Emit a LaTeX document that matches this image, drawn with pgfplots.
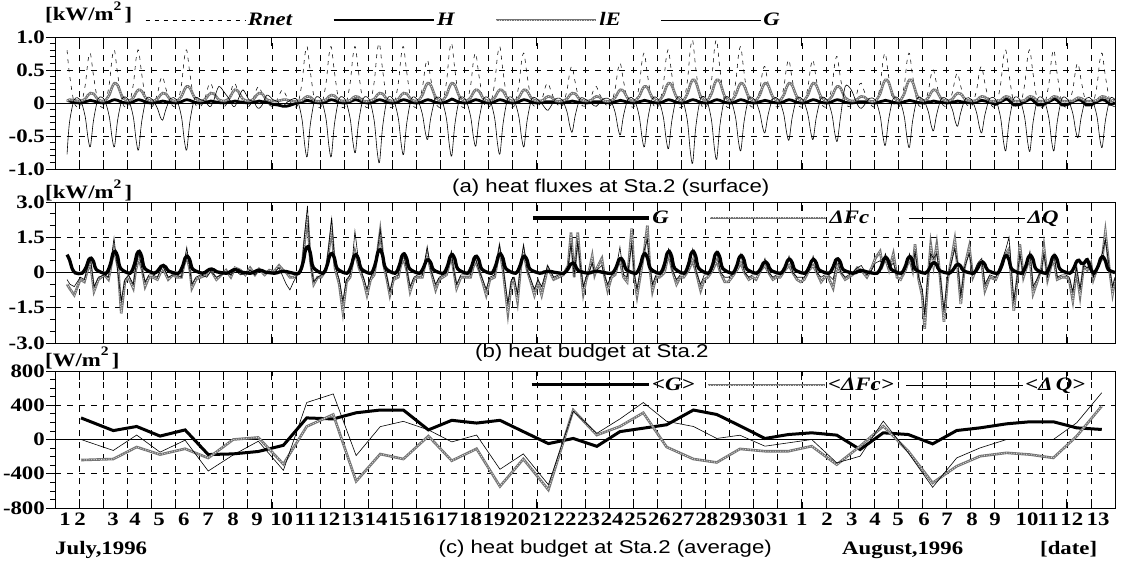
\documentclass[border=0pt]{standalone}
\usepackage{pgfplots}
\pgfplotsset{compat=1.18}
\usepackage{pgfplotstable}
\usepackage{fontspec}
\setmainfont{Liberation Serif}[FakeStretch=1.2]
\newfontfamily\sansf{Liberation Sans}[FakeStretch=1.2]
\newcommand\tkf{\bfseries\fontsize{19}{19}\selectfont}
\newcommand\lgf{\bfseries\itshape\fontsize{19}{19}\selectfont}
\newcommand\ttlf{\sansf\fontsize{18.5}{18.5}\selectfont}
\newcommand\unitlbl[1]{[#1/m\raisebox{0.55em}{\fontsize{13}{13}\selectfont 2}\,]}

% surface heat fluxes (kW/m^2): net radiation, sensible, latent, ground
\pgfplotstableread{
x R H E G
0.50 0.80 0.04 0.03 -0.78
0.60 0.44 0.03 0.05 -0.30
0.80 0.00 0.01 0.04 0.05
1.05 -0.05 0.00 0.03 0.05
1.25 0.26 0.02 0.06 -0.20
1.37 0.64 0.03 0.12 -0.53
1.47 0.75 0.04 0.15 -0.66
1.60 0.41 0.03 0.14 -0.26
1.80 0.00 0.01 0.05 0.07
2.05 -0.05 0.00 0.03 0.05
2.25 0.28 0.02 0.12 -0.20
2.37 0.68 0.04 0.24 -0.53
2.47 0.80 0.05 0.30 -0.66
2.60 0.44 0.04 0.27 -0.26
2.80 0.00 0.01 0.09 0.07
3.05 -0.05 0.00 0.03 0.05
3.25 0.28 0.02 0.08 -0.21
3.37 0.68 0.04 0.16 -0.57
3.47 0.80 0.05 0.20 -0.71
3.60 0.44 0.04 0.18 -0.28
3.80 0.00 0.01 0.06 0.07
4.05 -0.05 0.00 0.03 0.05
4.25 0.14 0.02 0.06 -0.08
4.37 0.34 0.02 0.12 -0.21
4.47 0.40 0.03 0.15 -0.26
4.60 0.22 0.02 0.14 -0.10
4.80 0.00 0.01 0.05 0.07
5.05 -0.05 0.00 0.03 0.05
5.25 0.28 0.02 0.10 -0.21
5.37 0.68 0.04 0.20 -0.57
5.47 0.80 0.05 0.25 -0.71
5.60 0.44 0.04 0.23 -0.28
5.80 0.00 0.01 0.08 0.07
6.05 -0.05 0.00 0.03 0.05
6.25 0.10 0.02 0.06 0.02
6.37 0.26 0.02 0.12 -0.04
6.47 0.30 0.03 0.15 -0.05
6.60 0.17 0.02 0.14 0.05
6.80 0.00 0.01 0.05 0.25
7.05 -0.05 0.00 0.03 0.15
7.25 0.10 0.02 0.08 0.05
7.37 0.26 0.02 0.16 -0.04
7.47 0.30 0.03 0.20 -0.05
7.60 0.17 0.02 0.18 0.05
7.80 0.00 0.01 0.06 0.20
8.05 -0.05 0.00 0.03 0.05
8.25 0.09 0.02 0.06 0.02
8.37 0.21 0.02 0.12 -0.06
8.47 0.25 0.03 0.15 -0.08
8.60 0.14 0.02 0.14 -0.03
8.80 0.00 0.01 0.05 0.12
9.05 -0.05 -0.02 0.03 0.05
9.25 0.07 -0.03 0.03 0.02
9.37 0.17 -0.04 0.04 -0.04
9.47 0.20 -0.05 0.05 -0.05
9.60 0.11 -0.05 0.05 0.00
9.80 0.00 -0.03 0.03 0.05
10.05 -0.05 0.00 0.03 0.05
10.25 0.30 0.02 0.04 -0.24
10.37 0.72 0.03 0.08 -0.65
10.47 0.85 0.04 0.10 -0.81
10.60 0.47 0.03 0.09 -0.32
10.80 0.00 0.01 0.03 0.07
11.05 -0.05 0.00 0.03 0.05
11.25 0.30 0.02 0.05 -0.24
11.37 0.72 0.04 0.10 -0.65
11.47 0.85 0.05 0.12 -0.81
11.60 0.47 0.04 0.11 -0.32
11.80 0.00 0.01 0.04 0.07
12.05 -0.05 0.00 0.03 0.05
12.25 0.30 0.02 0.04 -0.23
12.37 0.72 0.04 0.08 -0.60
12.47 0.85 0.05 0.10 -0.75
12.60 0.47 0.04 0.09 -0.30
12.80 0.00 0.01 0.03 0.07
13.05 -0.05 0.00 0.03 0.05
13.25 0.32 0.02 0.06 -0.27
13.37 0.77 0.04 0.12 -0.72
13.47 0.90 0.05 0.15 -0.90
13.60 0.50 0.04 0.14 -0.36
13.80 0.00 0.01 0.05 0.07
14.05 -0.05 0.00 0.03 0.05
14.25 0.30 0.02 0.06 -0.23
14.37 0.72 0.04 0.12 -0.62
14.47 0.85 0.05 0.15 -0.78
14.60 0.47 0.04 0.14 -0.31
14.80 0.00 0.01 0.05 0.07
15.05 -0.05 0.00 0.03 0.05
15.25 0.23 0.02 0.12 -0.17
15.37 0.55 0.04 0.24 -0.44
15.47 0.65 0.05 0.30 -0.55
15.60 0.36 0.04 0.27 -0.22
15.80 0.00 0.01 0.09 0.07
16.05 -0.05 0.00 0.03 0.05
16.25 0.32 0.02 0.12 -0.24
16.37 0.77 0.04 0.24 -0.64
16.47 0.90 0.06 0.30 -0.80
16.60 0.50 0.04 0.27 -0.32
16.80 0.00 0.01 0.09 0.07
17.05 -0.05 0.00 0.03 0.05
17.25 0.26 0.02 0.08 -0.20
17.37 0.64 0.04 0.16 -0.52
17.47 0.75 0.05 0.20 -0.65
17.60 0.41 0.04 0.18 -0.26
17.80 0.00 0.01 0.06 0.07
18.05 -0.05 0.00 0.03 0.05
18.25 0.30 0.02 0.08 -0.23
18.37 0.72 0.04 0.16 -0.62
18.47 0.85 0.05 0.20 -0.77
18.60 0.47 0.04 0.18 -0.31
18.80 0.00 0.01 0.06 0.07
19.05 -0.05 0.00 0.03 0.05
19.25 0.26 0.02 0.08 -0.20
19.37 0.64 0.04 0.16 -0.53
19.47 0.75 0.05 0.20 -0.66
19.60 0.41 0.04 0.18 -0.26
19.80 0.00 0.01 0.06 0.07
20.05 -0.05 0.00 0.03 0.05
20.25 0.10 0.01 0.04 -0.03
20.37 0.26 0.02 0.08 -0.09
20.47 0.30 0.02 0.10 -0.11
20.60 0.17 0.02 0.09 -0.04
20.80 0.00 0.01 0.03 0.07
21.05 -0.05 0.00 0.03 0.05
21.25 0.19 0.02 0.06 -0.13
21.37 0.47 0.02 0.12 -0.35
21.47 0.55 0.03 0.15 -0.44
21.60 0.30 0.02 0.14 -0.18
21.80 0.00 0.01 0.05 0.07
22.05 -0.05 0.00 0.03 0.05
22.25 0.09 0.01 0.04 0.00
22.37 0.21 0.02 0.08 -0.04
22.47 0.25 0.02 0.10 -0.05
22.60 0.14 0.02 0.09 0.00
22.80 0.00 0.01 0.03 0.07
23.05 -0.05 0.00 0.03 0.05
23.25 0.21 0.02 0.08 -0.14
23.37 0.51 0.03 0.16 -0.38
23.47 0.60 0.04 0.20 -0.48
23.60 0.33 0.03 0.18 -0.19
23.80 0.00 0.01 0.06 0.07
24.05 -0.05 0.00 0.03 0.05
24.25 0.26 0.02 0.10 -0.20
24.37 0.64 0.03 0.20 -0.53
24.47 0.75 0.04 0.25 -0.66
24.60 0.41 0.03 0.23 -0.26
24.80 0.00 0.01 0.08 0.07
25.05 -0.05 0.00 0.03 0.05
25.25 0.28 0.02 0.12 -0.21
25.37 0.68 0.04 0.24 -0.55
25.47 0.80 0.05 0.30 -0.69
25.60 0.44 0.04 0.27 -0.28
25.80 0.00 0.01 0.09 0.07
26.05 -0.05 0.00 0.03 0.05
26.25 0.33 0.02 0.14 -0.27
26.37 0.81 0.04 0.28 -0.73
26.47 0.95 0.05 0.35 -0.91
26.60 0.52 0.04 0.32 -0.36
26.80 0.00 0.01 0.10 0.07
27.05 -0.05 0.00 0.03 0.05
27.25 0.33 0.02 0.14 -0.26
27.37 0.81 0.04 0.28 -0.68
27.47 0.95 0.05 0.35 -0.85
27.60 0.52 0.04 0.32 -0.34
27.80 0.00 0.01 0.10 0.07
28.05 -0.05 0.00 0.03 0.05
28.25 0.30 0.02 0.12 -0.22
28.37 0.72 0.04 0.24 -0.58
28.47 0.85 0.05 0.30 -0.72
28.60 0.47 0.04 0.27 -0.29
28.80 0.00 0.01 0.09 0.07
29.05 -0.05 0.00 0.03 0.05
29.25 0.19 0.02 0.12 -0.14
29.37 0.47 0.03 0.24 -0.36
29.47 0.55 0.04 0.30 -0.45
29.60 0.30 0.03 0.27 -0.18
29.80 0.00 0.01 0.09 0.07
30.05 -0.05 0.00 0.03 0.05
30.25 0.23 0.02 0.12 -0.17
30.37 0.55 0.04 0.24 -0.45
30.47 0.65 0.05 0.30 -0.56
30.60 0.36 0.04 0.27 -0.22
30.80 0.00 0.01 0.09 0.07
31.05 -0.05 0.00 0.03 0.05
31.25 0.23 0.02 0.12 -0.17
31.37 0.55 0.04 0.24 -0.44
31.47 0.65 0.05 0.30 -0.55
31.60 0.36 0.04 0.27 -0.22
31.80 0.00 0.01 0.09 0.07
32.05 -0.05 0.00 0.03 0.05
32.25 0.25 0.02 0.10 -0.17
32.37 0.60 0.04 0.20 -0.46
32.47 0.70 0.05 0.25 -0.58
32.60 0.39 0.04 0.23 -0.23
32.80 0.00 0.01 0.08 0.25
33.05 -0.05 0.00 0.03 0.20
33.25 0.10 0.01 0.04 0.02
33.37 0.26 0.02 0.08 -0.06
33.47 0.30 0.02 0.10 -0.08
33.60 0.17 0.02 0.09 -0.03
33.80 0.00 0.01 0.03 0.07
34.05 -0.05 0.00 0.03 0.05
34.25 0.26 0.02 0.14 -0.19
34.37 0.64 0.03 0.28 -0.51
34.47 0.75 0.04 0.35 -0.64
34.60 0.41 0.03 0.32 -0.26
34.80 0.00 0.01 0.10 0.07
35.05 -0.05 0.00 0.03 0.05
35.25 0.26 0.02 0.14 -0.20
35.37 0.64 0.03 0.28 -0.54
35.47 0.75 0.04 0.35 -0.67
35.60 0.41 0.03 0.32 -0.27
35.80 0.00 0.01 0.10 0.07
36.05 -0.05 0.00 0.03 0.05
36.25 0.18 0.02 0.08 -0.13
36.37 0.43 0.02 0.16 -0.34
36.47 0.50 0.03 0.20 -0.42
36.60 0.28 0.02 0.18 -0.17
36.80 0.00 0.01 0.06 0.07
37.05 -0.05 0.00 0.03 0.05
37.25 0.16 0.02 0.06 -0.10
37.37 0.38 0.02 0.12 -0.28
37.47 0.45 0.03 0.15 -0.35
37.60 0.25 0.02 0.14 -0.14
37.80 0.00 0.01 0.05 0.07
38.05 -0.05 0.00 0.03 0.05
38.25 0.19 0.02 0.04 -0.14
38.37 0.47 0.03 0.08 -0.36
38.47 0.55 0.04 0.10 -0.45
38.60 0.30 0.03 0.09 -0.18
38.80 0.00 0.01 0.03 0.07
39.05 -0.05 -0.02 0.03 0.05
39.25 0.28 0.02 0.04 -0.22
39.37 0.68 0.04 0.08 -0.58
39.47 0.80 0.06 0.10 -0.72
39.60 0.44 0.04 0.09 -0.29
39.80 0.00 -0.03 0.03 0.07
40.05 -0.05 -0.02 0.03 0.05
40.25 0.28 0.02 0.04 -0.22
40.37 0.68 0.04 0.08 -0.58
40.47 0.80 0.06 0.10 -0.73
40.60 0.44 0.04 0.09 -0.29
40.80 0.00 -0.03 0.03 0.07
41.05 -0.05 -0.02 0.03 0.05
41.25 0.28 0.02 0.04 -0.22
41.37 0.68 0.04 0.08 -0.58
41.47 0.80 0.06 0.10 -0.72
41.60 0.44 0.04 0.09 -0.29
41.80 0.00 -0.03 0.03 0.07
42.05 -0.05 -0.02 0.03 0.05
42.25 0.21 0.02 0.03 -0.16
42.37 0.51 0.04 0.06 -0.42
42.47 0.60 0.05 0.08 -0.52
42.60 0.33 0.04 0.07 -0.21
42.80 0.00 -0.03 0.03 0.07
43.05 -0.05 -0.02 0.03 0.05
43.25 0.26 0.02 0.04 -0.20
43.37 0.64 0.04 0.08 -0.54
43.47 0.75 0.05 0.10 -0.67
43.60 0.41 0.04 0.09 -0.27
43.80 0.00 -0.02 0.03 0.07
44.00 -0.05 0.00 0.05 0.05
}\surf

% heat budget (kW/m^2): flux convergence and storage change
\pgfplotstableread{
x F Q
0.50 -0.50 -0.30
0.62 -0.70 -0.50
0.80 -0.96 -0.60
1.05 -0.30 -0.20
1.22 -0.40 -0.30
1.35 0.10 0.20
1.47 0.40 0.60
1.62 -0.80 -0.60
1.80 -0.30 -0.20
2.05 -0.10 -0.10
2.22 -0.30 -0.20
2.35 0.40 0.70
2.45 1.00 1.47
2.62 0.20 -0.10
2.75 -1.74 -1.20
2.90 -0.40 -0.30
3.05 -0.20 -0.10
3.25 -0.67 -0.50
3.35 0.10 0.20
3.48 0.60 0.87
3.62 0.10 0.10
3.74 -0.60 -0.40
3.90 -0.20 -0.10
4.05 -0.20 -0.10
4.25 -0.30 -0.20
4.47 0.20 0.30
4.70 -0.30 -0.20
4.90 -0.10 -0.10
5.05 -0.20 -0.10
5.25 -0.20 -0.20
5.35 0.30 0.40
5.47 0.70 1.07
5.60 0.10 0.10
5.68 -0.67 -0.50
5.85 -0.30 -0.20
6.05 -0.20 -0.10
6.30 -0.10 -0.20
6.47 0.10 0.05
6.70 -0.30 -0.20
6.90 -0.10 -0.10
7.10 0.10 0.00
7.30 -0.20 -0.10
7.47 0.20 0.10
7.70 0.10 -0.10
7.90 -0.10 -0.05
8.10 0.20 0.10
8.30 -0.10 -0.10
8.47 0.15 0.10
8.70 -0.10 0.00
8.90 0.10 0.00
9.10 0.05 0.00
9.30 0.30 0.20
9.47 0.10 -0.20
9.60 0.00 -0.50
9.75 -0.20 -0.74
9.90 -0.20 -0.40
10.05 -0.10 -0.10
10.25 0.20 0.20
10.35 1.20 1.50
10.48 2.40 2.83
10.60 0.50 0.40
10.74 -0.50 -0.40
10.90 -0.20 -0.20
11.05 -0.20 -0.10
11.25 0.10 0.20
11.35 0.80 1.00
11.48 1.90 2.33
11.62 0.20 0.30
11.80 -0.50 -0.30
11.95 -1.67 -1.20
12.10 -0.40 -0.30
12.25 -0.20 -0.10
12.35 0.40 0.60
12.45 0.90 1.76
12.62 0.20 0.30
12.80 -0.30 -0.20
12.95 -0.96 -0.70
13.10 -0.30 -0.20
13.25 -0.10 0.10
13.38 0.80 0.90
13.50 1.76 1.83
13.65 0.30 0.40
13.78 -0.30 -0.20
13.90 -0.96 -0.80
14.05 -0.30 -0.20
14.25 -0.20 -0.10
14.35 0.30 0.40
14.47 0.60 0.83
14.60 0.10 0.10
14.74 -0.81 -0.60
14.90 -0.30 -0.20
15.05 -0.20 -0.10
15.25 -0.20 -0.10
15.35 0.30 0.50
15.45 0.80 1.11
15.60 0.10 0.10
15.80 -0.74 -0.50
15.95 -0.30 -0.20
16.10 -0.20 -0.10
16.25 -0.10 0.00
16.35 0.30 0.40
16.45 0.70 0.90
16.55 0.10 0.10
16.67 -0.67 -0.50
16.85 -0.20 -0.10
17.05 -0.20 -0.10
17.25 -0.20 -0.10
17.35 0.20 0.30
17.45 0.50 0.61
17.60 0.10 0.10
17.75 -0.40 -0.30
17.90 -0.96 -0.70
18.05 -0.30 -0.20
18.25 -0.20 -0.10
18.35 0.40 0.60
18.45 1.00 1.19
18.60 0.10 0.20
18.80 -1.74 -1.30
18.95 -0.40 -0.30
19.05 -0.30 -0.20
19.20 -1.24 -0.90
19.33 0.20 0.40
19.45 0.90 1.19
19.60 0.10 0.10
19.75 -0.40 -0.30
19.90 -0.96 -0.70
20.05 -0.40 -0.30
20.20 -0.96 -0.60
20.45 0.20 0.30
20.70 -0.30 -0.20
20.90 -0.20 -0.10
21.10 -0.10 -0.10
21.30 0.30 0.30
21.42 1.70 1.20
21.55 -0.20 -0.10
21.70 1.70 1.30
21.82 0.20 0.20
21.93 -0.90 -0.60
22.05 -0.30 -0.20
22.20 0.20 0.10
22.30 0.70 0.40
22.40 -0.10 0.00
22.50 0.20 0.10
22.70 0.60 0.30
22.80 -0.10 -0.10
22.94 -0.77 -0.50
23.10 -0.20 -0.10
23.25 -0.10 0.10
23.35 0.30 0.50
23.45 0.50 1.08
23.60 -0.20 -0.10
23.75 -0.40 -0.20
23.94 1.87 1.20
24.05 -0.20 -0.10
24.16 -1.00 -0.70
24.35 0.20 0.50
24.47 1.00 1.00
24.59 2.00 1.40
24.70 0.10 0.20
24.80 -0.80 -0.50
24.95 -0.20 -0.10
25.10 -0.20 -0.10
25.30 0.00 0.20
25.47 0.80 1.00
25.62 0.10 0.10
25.80 -0.50 -0.30
25.95 -0.20 -0.10
26.10 -0.20 -0.10
26.30 0.10 0.30
26.47 0.50 1.00
26.62 0.00 0.00
26.80 -0.77 -0.50
26.95 -0.30 -0.10
27.10 -0.20 -0.10
27.30 0.10 0.20
27.47 0.50 0.90
27.62 0.00 0.00
27.80 -0.40 -0.20
27.95 -0.40 -0.20
28.10 -0.20 -0.10
28.30 0.10 0.20
28.47 0.40 0.80
28.62 0.00 0.00
28.80 -0.30 -0.20
28.95 -0.20 -0.10
29.10 -0.30 -0.10
29.30 0.10 0.10
29.47 0.30 0.60
29.62 0.00 0.00
29.80 -0.30 -0.20
29.95 -0.20 -0.10
30.10 -0.20 -0.10
30.30 0.10 0.10
30.47 0.30 0.70
30.62 0.00 0.00
30.80 -0.30 -0.20
30.95 -0.40 -0.20
31.10 -0.30 -0.20
31.30 0.10 0.10
31.47 0.30 0.70
31.62 0.00 0.00
31.80 -0.40 -0.20
31.95 -0.20 -0.10
32.10 -0.20 -0.10
32.30 -0.67 -0.30
32.47 0.30 0.60
32.62 0.00 0.00
32.80 -0.30 -0.20
32.95 -0.20 -0.10
33.10 -0.10 0.00
33.30 0.20 0.20
33.47 0.10 0.30
33.70 -0.20 -0.10
33.90 0.20 0.10
34.05 0.60 0.40
34.25 0.90 0.50
34.35 0.30 0.40
34.47 0.60 0.80
34.62 0.10 0.20
34.80 0.80 0.40
34.95 -0.20 -0.10
35.10 -0.30 -0.10
35.30 0.10 0.20
35.47 0.60 0.80
35.60 0.10 0.10
35.70 1.20 0.90
35.85 -0.30 -0.20
36.00 -1.00 -0.70
36.10 -2.40 -1.80
36.22 -0.50 -0.30
36.35 1.20 0.80
36.47 0.30 0.60
36.60 1.20 0.80
36.75 -0.30 -0.20
36.90 -2.10 -1.60
37.05 -0.30 -0.20
37.20 0.50 0.40
37.35 1.40 1.00
37.47 0.20 0.40
37.60 -1.34 -1.00
37.75 0.20 0.20
37.95 1.10 0.80
38.10 -0.20 -0.10
38.30 0.30 0.40
38.47 0.40 0.60
38.60 -0.77 -0.50
38.80 -0.20 -0.10
39.05 -0.30 -0.20
39.30 0.30 0.50
39.47 0.80 1.00
39.60 1.00 1.50
39.80 -1.63 -1.20
39.95 -0.20 -0.10
40.05 1.20 0.80
40.20 -0.20 -0.10
40.35 0.30 0.40
40.47 0.60 0.90
40.60 -0.90 -0.60
40.80 -0.30 -0.20
40.95 0.20 0.10
41.05 1.10 0.80
41.20 -0.30 -0.20
41.35 0.30 0.40
41.47 0.50 0.80
41.60 -0.30 -0.20
41.80 -0.20 -0.10
41.95 -0.20 -0.10
42.10 -0.30 -0.20
42.25 -1.20 -0.80
42.40 0.10 0.20
42.55 -1.00 -0.70
42.70 0.30 0.30
42.85 0.10 0.20
43.00 0.40 0.40
43.10 -0.30 -0.20
43.30 0.30 0.40
43.47 0.60 0.80
43.60 1.73 1.40
43.75 0.30 0.30
43.90 -0.90 -0.60
44.00 -0.30 -0.20
}\budget

% ground heat flux in the budget panel (kW/m^2)
\pgfplotstableread{
x G
0.50 0.76
0.60 0.55
0.72 0.15
0.85 -0.02
1.12 -0.03
1.30 0.24
1.40 0.54
1.50 0.61
1.60 0.46
1.72 0.12
2.12 -0.03
2.30 0.36
2.40 0.79
2.50 0.90
2.60 0.68
2.72 0.18
3.12 -0.03
3.30 0.36
3.40 0.79
3.50 0.90
3.60 0.68
3.72 0.18
4.12 -0.03
4.30 0.12
4.40 0.26
4.50 0.30
4.60 0.23
4.72 0.06
5.12 -0.03
5.30 0.28
5.40 0.61
5.50 0.69
5.60 0.52
5.72 0.14
6.12 -0.03
6.30 0.06
6.40 0.13
6.50 0.15
6.60 0.11
6.72 0.03
7.12 -0.03
7.30 0.05
7.40 0.11
7.50 0.12
7.60 0.09
7.72 0.02
8.12 -0.03
8.30 0.04
8.40 0.09
8.50 0.10
8.60 0.08
8.72 0.02
9.12 -0.03
9.30 0.02
9.40 0.04
9.50 0.05
9.60 0.04
9.72 0.01
10.12 -0.03
10.30 0.44
10.40 0.97
10.50 1.10
10.60 0.83
10.72 0.22
11.12 -0.03
11.30 0.32
11.40 0.71
11.50 0.81
11.60 0.61
11.72 0.16
12.12 -0.03
12.30 0.30
12.40 0.67
12.50 0.76
12.60 0.57
12.72 0.15
13.12 -0.03
13.30 0.39
13.40 0.85
13.50 0.97
13.60 0.73
13.72 0.19
14.12 -0.03
14.30 0.32
14.40 0.70
14.50 0.79
14.60 0.59
14.72 0.16
15.12 -0.03
15.30 0.22
15.40 0.48
15.50 0.54
15.60 0.41
15.72 0.11
16.12 -0.03
16.30 0.30
16.40 0.67
16.50 0.76
16.60 0.57
16.72 0.15
17.12 -0.03
17.30 0.28
17.40 0.61
17.50 0.69
17.60 0.52
17.72 0.14
18.12 -0.03
18.30 0.32
18.40 0.70
18.50 0.79
18.60 0.59
18.72 0.16
19.12 -0.03
19.30 0.28
19.40 0.61
19.50 0.69
19.60 0.52
19.72 0.14
20.12 -0.03
20.30 0.02
20.40 0.04
20.50 0.05
20.60 0.04
20.72 0.01
21.12 -0.03
21.30 0.16
21.40 0.35
21.50 0.40
21.60 0.30
21.72 0.08
22.12 -0.03
22.30 0.02
22.40 0.04
22.50 0.05
22.60 0.04
22.72 0.01
23.12 -0.03
23.30 0.24
23.40 0.53
23.50 0.60
23.60 0.45
23.72 0.12
24.12 -0.03
24.30 0.32
24.40 0.70
24.50 0.80
24.60 0.60
24.72 0.16
25.12 -0.03
25.30 0.36
25.40 0.79
25.50 0.90
25.60 0.68
25.72 0.18
26.12 -0.03
26.30 0.36
26.40 0.79
26.50 0.90
26.60 0.68
26.72 0.18
27.12 -0.03
27.30 0.34
27.40 0.75
27.50 0.85
27.60 0.64
27.72 0.17
28.12 -0.03
28.30 0.29
28.40 0.63
28.50 0.72
28.60 0.54
28.72 0.14
29.12 -0.03
29.30 0.18
29.40 0.40
29.50 0.45
29.60 0.34
29.72 0.09
30.12 -0.03
30.30 0.22
30.40 0.49
30.50 0.56
30.60 0.42
30.72 0.11
31.12 -0.03
31.30 0.22
31.40 0.48
31.50 0.55
31.60 0.41
31.72 0.11
32.12 -0.03
32.30 0.23
32.40 0.51
32.50 0.58
32.60 0.44
32.72 0.12
33.12 -0.03
33.30 0.03
33.40 0.07
33.50 0.08
33.60 0.06
33.72 0.02
34.12 -0.03
34.30 0.26
34.40 0.56
34.50 0.64
34.60 0.48
34.72 0.13
35.12 -0.03
35.30 0.27
35.40 0.59
35.50 0.67
35.60 0.50
35.72 0.13
36.12 -0.03
36.30 0.17
36.40 0.37
36.50 0.42
36.60 0.32
36.72 0.08
37.12 -0.03
37.30 0.14
37.40 0.31
37.50 0.35
37.60 0.26
37.72 0.07
38.12 -0.03
38.30 0.18
38.40 0.40
38.50 0.45
38.60 0.34
38.72 0.09
39.12 -0.03
39.30 0.29
39.40 0.63
39.50 0.72
39.60 0.54
39.72 0.14
40.12 -0.03
40.30 0.29
40.40 0.64
40.50 0.73
40.60 0.55
40.72 0.15
41.12 -0.03
41.30 0.29
41.40 0.63
41.50 0.72
41.60 0.54
41.72 0.14
42.12 -0.03
42.30 0.21
42.40 0.46
42.50 0.52
42.60 0.39
42.72 0.40
42.85 0.55
42.97 0.20
43.12 -0.03
43.30 0.27
43.40 0.59
43.50 0.67
43.60 0.50
43.72 0.13
44.00 0.00
}\gtwo

% daily averages (W/m^2)
\pgfplotstableread{
x G F Q
1.08 252 -240 0
2.42 104 -228 -128
3.39 152 -88 52
4.36 40 -176 -148
5.40 112 -108 -8
6.36 -176 -216 -368
7.40 -168 0 -180
8.44 -140 24 -20
9.48 -68 -288 -360
10.45 252 152 432
11.55 240 292 532
12.50 312 -488 -188
13.50 344 -170 150
14.46 344 -228 212
15.50 112 40 112
16.47 224 -248 -28
17.50 192 -108 52
18.47 224 -548 -348
19.44 92 -228 -168
20.48 -48 -588 -528
21.51 12 344 332
22.49 -80 52 72
23.45 92 152 240
24.42 132 312 432
25.39 172 -88 212
26.50 344 -228 152
27.47 292 -268 12
28.43 160 -110 50
29.47 12 -137 -78
30.44 58 -137 -39
31.41 78 -78 0
32.45 51 -293 -273
33.42 -117 -78 -195
34.38 78 156 215
35.42 58 -137 -156
36.43 -51 -507 -558
37.43 105 -312 -215
38.40 136 -195 -98
39.50 183 -156 0
40.47 207 -176 0
41.44 207 -215 0
42.41 136 39 195
43.45 117 390 546
}\daily

\pgfplotsset{
  panel/.style={
    scale only axis, width=1060pt, anchor=south west,
    xmin=0, xmax=44, xtick={1,...,43}, xticklabels={},
    xtick align=inside, ytick align=outside, ytick pos=left, xtick pos=both,
    major tick length=9pt, minor tick length=5pt,
    every tick/.style={black, line width=0.7pt},
    xmajorgrids, ymajorgrids,
    major grid style={black, line width=0.6pt, dash pattern=on 6pt off 6pt},
    axis line style={line width=0.9pt},
    yticklabel style={font=\tkf, inner sep=1pt},
    extra y ticks={0}, extra y tick labels={},
    extra y tick style={major grid style={solid, black, line width=0.7pt}},
    legend columns=-1,
    legend style={draw=none, fill=none, inner sep=0pt, font=\lgf,
      nodes={inner sep=2pt},
      /tikz/every even column/.append style={column sep=38pt}},
  },
  rnet/.style={black, line width=0.55pt, dash pattern=on 4pt off 5pt, smooth, tension=0.5},
  thick/.style={black, line width=2.8pt, smooth, tension=0.5},
  thin/.style={black, line width=0.6pt, smooth, tension=0.5},
  texgray/.style={color=black!55, line width=2.6pt,
    postaction={draw=white!70!gray, line width=0.9pt, dash pattern=on 1pt off 1.5pt}},
}

\begin{document}
\begin{tikzpicture}
\useasboundingbox (0,0) rectangle (1126pt,560pt);

% (a) surface heat fluxes
\begin{axis}[panel, at={(55pt,391pt)}, height=132pt,
  ymin=-1, ymax=1, ytick={-1,-0.5,0,0.5,1},
  yticklabels={-1.0,-0.5,0,0.5,1.0}, minor y tick num=4,
  legend style={at={(0.085,1.129)}, anchor=west},
  legend image code/.code={\draw[#1] (0pt,0pt) -- (100pt,0pt);}]
\addplot[rnet] table[x=x,y=R]{\surf};
\addlegendentry{Rnet}
\addplot[thick] table[x=x,y=H]{\surf};
\addlegendentry{H}
\addplot[texgray, smooth, tension=0.5] table[x=x,y=E]{\surf};
\addlegendentry{lE}
\addplot[thin] table[x=x,y=G]{\surf};
\addlegendentry{G}
\end{axis}

% (b) heat budget
\begin{axis}[panel, at={(55pt,217pt)}, height=141pt,
  ymin=-3, ymax=3, ytick={-3,-1.5,0,1.5,3},
  yticklabels={-3.0,-1.5,0,1.5,3.0}, minor y tick num=2,
  legend style={at={(0.449,0.887)}, anchor=west},
  legend image code/.code={\draw[#1] (0pt,0pt) -- (116pt,0pt);}]
\addlegendimage{black, line width=3.3pt}
\addlegendentry{G}
\addlegendimage{texgray}
\addlegendentry{ΔFc}
\addlegendimage{black, line width=0.6pt}
\addlegendentry{ΔQ}
\addplot[texgray, forget plot] table[x=x,y=F]{\budget};
\addplot[black, line width=0.6pt, forget plot] table[x=x,y=Q]{\budget};
\addplot[black, line width=3.3pt, smooth, tension=0.5, forget plot] table[x=x,y=G]{\gtwo};
\end{axis}

% (c) daily averaged heat budget
\begin{axis}[panel, at={(55pt,52pt)}, height=137pt,
  ymin=-800, ymax=800, ytick={-800,-400,0,400,800},
  yticklabels={-800,-400,0,400,800}, minor y tick num=3,
  extra x ticks={0.42,1.04,2.41,3.32,4.32,5.35,6.35,7.39,8.39,9.41,10.39,11.37,12.35,13.33,14.31,15.29,16.27,17.25,18.23,19.21,20.19,21.17,22.15,23.13,24.11,25.09,26.07,27.05,28.03,29.01,29.99,31.0,32.05,33.08,34.04,35.0,36.07,37.03,38.07,39.02,40.35,41.22,42.21,43.3},
  extra x tick labels={1,2,3,4,5,6,7,8,9,10,11,12,13,14,15,16,17,18,19,20,21,22,23,24,25,26,27,28,29,30,31,1,2,3,4,5,6,7,8,9,10,11,12,13},
  extra x tick style={xmajorgrids=false, major tick length=0pt},
  xticklabel style={font=\tkf, inner sep=1pt, yshift=-4pt},
  legend style={at={(0.448,0.898)}, anchor=west,
    /tikz/every even column/.append style={column sep=10pt}},
  legend image code/.code={\draw[#1] (0pt,0pt) -- (117pt,0pt);}]
\addplot[black, line width=3pt] table[x=x,y=G]{\daily};
\addlegendentry{<G>}
\addplot[texgray] table[x=x,y=F]{\daily};
\addlegendentry{<ΔFc>}
\addplot[black, line width=0.6pt] table[x=x,y=Q]{\daily};
\addlegendentry{<Δ\,Q>}
\end{axis}

% units, panel titles and date captions
\node[anchor=base west, font=\tkf, inner sep=0pt] at (45pt,539pt) {\unitlbl{kW}};
\node[anchor=base west, font=\tkf, inner sep=0pt] at (45pt,361pt) {\unitlbl{kW}};
\node[anchor=base west, font=\tkf, inner sep=0pt] at (45pt,194pt) {\unitlbl{W}};
\node[anchor=base west, font=\ttlf, inner sep=0pt] at (452pt,367pt) {(a) heat fluxes at Sta.2 (surface)};
\node[anchor=base west, font=\ttlf, inner sep=0pt] at (475pt,203pt) {(b) heat budget at Sta.2};
\node[anchor=base east, font=\ttlf, inner sep=0pt] at (772pt,7pt) {(c) heat budget at Sta.2 (average)};
\node[anchor=base west, font=\tkf, inner sep=0pt] at (55pt,6pt) {July,1996};
\node[anchor=base west, font=\tkf, inner sep=0pt] at (842pt,6pt) {August,1996};
\node[anchor=base west, font=\tkf, inner sep=0pt] at (1040pt,6pt) {[date]};
\end{tikzpicture}
\end{document}
